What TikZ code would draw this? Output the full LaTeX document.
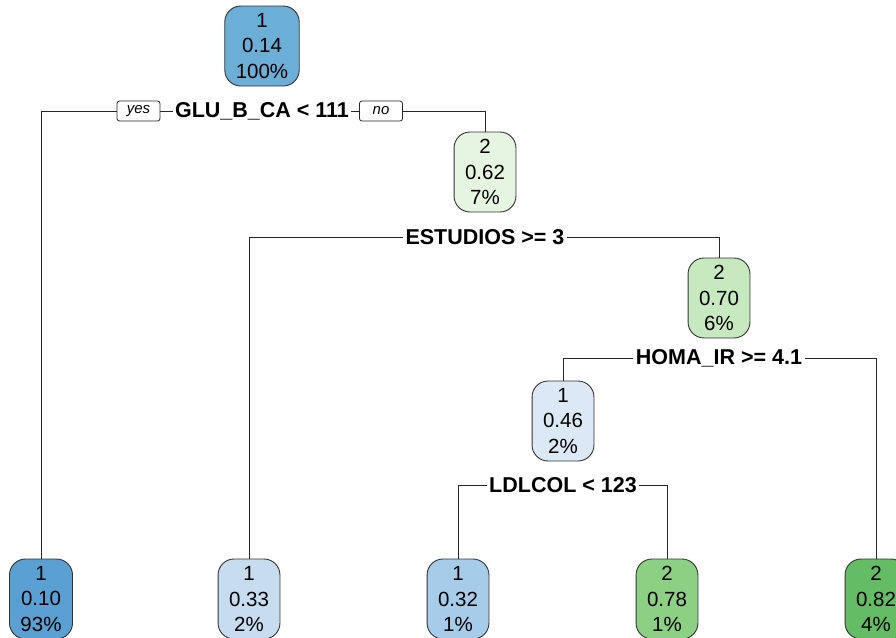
\documentclass[tikz,border=0pt]{standalone}
\usepackage{fontspec}
\setmainfont{Liberation Sans}
\usetikzlibrary{backgrounds}

% node fills, from blue (class 1) to green (class 2)
\definecolor{cA}{RGB}{107,174,214}
\definecolor{cB}{RGB}{90,160,210}
\definecolor{cC}{RGB}{200,220,240}
\definecolor{cD}{RGB}{166,204,233}
\definecolor{cE}{RGB}{219,233,246}
\definecolor{cF}{RGB}{229,245,224}
\definecolor{cG}{RGB}{199,233,192}
\definecolor{cH}{RGB}{140,208,132}
\definecolor{cI}{RGB}{100,188,100}

\tikzset{
  treebox/.style={draw=black!80, line width=0.9pt, rounded corners=16pt,
    align=center, inner xsep=11pt, inner ysep=3pt, minimum height=80pt,
    font=\fontsize{20.5}{25.5}\selectfont},
  splitlabel/.style={fill=white, inner xsep=2.5pt, inner ysep=1pt,
    font=\fontsize{21.5}{24}\selectfont\bfseries},
  yesno/.style={draw=black!85, fill=white, rounded corners=2.5pt, line width=0.8pt,
    minimum width=43pt, minimum height=20pt, inner sep=1pt,
    font=\fontsize{15}{17}\selectfont\itshape},
  edge/.style={draw=black!85, line width=0.9pt}
}

\begin{document}
\begin{tikzpicture}[x=1pt,y=-1pt]
\useasboundingbox (0,0) rectangle (896,637);

% inner nodes
\node[treebox, fill=cA] (n1) at (262,46) {1\\0.14\\100\%};
\node[treebox, fill=cF] (n2) at (485,172) {2\\0.62\\7\%};
\node[treebox, fill=cG] (n3) at (719,298) {2\\0.70\\6\%};
\node[treebox, fill=cE] (n4) at (563,421) {1\\0.46\\2\%};

% leaves
\node[treebox, fill=cB] (lf1) at (41,599) {1\\0.10\\93\%};
\node[treebox, fill=cC] (lf2) at (249,599) {1\\0.33\\2\%};
\node[treebox, fill=cD] (lf3) at (458,599) {1\\0.32\\1\%};
\node[treebox, fill=cH] (lf4) at (667,599) {2\\0.78\\1\%};
\node[treebox, fill=cI] (lf5) at (876,599) {2\\0.82\\4\%};

% split rules
\node[splitlabel] (s1) at (262,111) {GLU\_B\_CA < 111};
\node[splitlabel] (s2) at (485,237) {ESTUDIOS >= 3};
\node[splitlabel] (s3) at (719,358) {HOMA\_IR >= 4.1};
\node[splitlabel] (s4) at (563,485) {LDLCOL < 123};

% branch tags on the first split
\node[yesno] (yes) at (138.5,111) {yes};
\node[yesno] (no) at (381,111) {no};

% branches
\begin{scope}[on background layer]
\draw[edge] (s1.center) -| (lf1.north);
\draw[edge] (s1.center) -| (n2.north);
\draw[edge] (s2.center) -| (lf2.north);
\draw[edge] (s2.center) -| (n3.north);
\draw[edge] (s3.center) -| (n4.north);
\draw[edge] (s3.center) -| (lf5.north);
\draw[edge] (s4.center) -| (lf3.north);
\draw[edge] (s4.center) -| (lf4.north);
\end{scope}
\end{tikzpicture}
\end{document}
